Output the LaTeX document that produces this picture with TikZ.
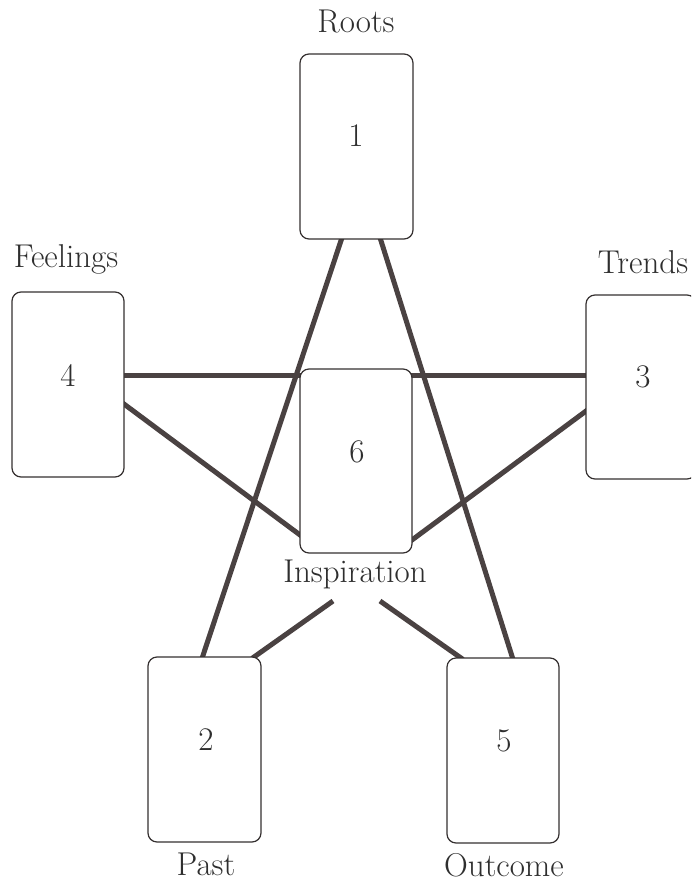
\documentclass[tikz,border=0pt]{standalone}
\usetikzlibrary{calc}
\definecolor{linec}{HTML}{4A4242}
\definecolor{edgec}{HTML}{353030}
\definecolor{textc}{HTML}{2E2E2E}
\begin{document}
\begin{tikzpicture}[x=1pt,y=-1pt,
  card/.style={draw=edgec, line width=1.2pt, fill=white, rounded corners=9pt,
    minimum width=112pt, minimum height=185pt, inner sep=0pt},
  lab/.style={font=\fontsize{33}{40}\selectfont, text=textc, anchor=base, inner sep=0pt},
  conn/.style={draw=linec, line width=5pt, line cap=butt}]
\clip (0,0) rectangle (691,882);
\fill[white] (0,0) rectangle (691,882);
% card positions (nodes drawn later, coordinates first for connectors)
\path (356.5,146.5) node[card, draw=none, fill=none, minimum width=113pt] (c1) {};
\path (68,384.5) node[card, draw=none, fill=none] (c4) {};
\path (641,387) node[card, draw=none, fill=none, minimum width=110pt, minimum height=184pt] (c3) {};
\path (356,461) node[card, draw=none, fill=none, minimum height=184pt] (c6) {};
\path (204.5,749.5) node[card, draw=none, fill=none, minimum width=113pt] (c2) {};
\path (503,750.5) node[card, draw=none, fill=none] (c5) {};
\coordinate (i1) at (333,601);
\coordinate (i2) at (380,601);
% connectors
\draw[conn] ($(c1.south)+(-14.5,-2)$) -- ($(c2.north)+(-2.5,2)$);
\draw[conn] ($(c1.south)+(23.5,-2)$) -- ($(c5.north)+(10,2)$);
\draw[conn] ($(c4.east)+(-2,-9.5)$) -- ($(c3.west)+(2,-12)$);
\draw[conn] ($(c4.east)+(-2,18.5)$) -- ($(c6.west)+(2,75)$);
\draw[conn] ($(c3.west)+(2,23)$) -- ($(c6.east)+(-2,80)$);
\draw[conn] (i1) -- ($(c2.north)+(47.5,2)$);
\draw[conn] (i2) -- ($(c5.north)+(-40,2)$);
% cards
\node[card, minimum width=113pt] at (c1.center) {};
\node[card] at (c4.center) {};
\node[card, minimum width=110pt, minimum height=184pt] at (c3.center) {};
\node[card, minimum height=184pt] at (c6.center) {};
\node[card, minimum width=113pt] at (c2.center) {};
\node[card] at (c5.center) {};
% numbers
\node[lab] (n1) at (356,147) {1};
\node[lab] (n4) at (68,386) {4};
\node[lab] (n3) at (643,387) {3};
\node[lab] (n6) at (357,462) {6};
\node[lab] (n2) at (206,750) {2};
\node[lab] (n5) at (504,751) {5};
% labels
\node[lab] (t1) at (356,33) {Roots};
\node[lab] (t4) at (66,268) {Feelings};
\node[lab] (t3) at (643,273) {Trends};
\node[lab] (t6) at (355,582) {Inspiration};
\node[lab] (t2) at (206,875) {Past};
\node[lab] (t5) at (504,876) {Outcome};
\end{tikzpicture}
\end{document}
